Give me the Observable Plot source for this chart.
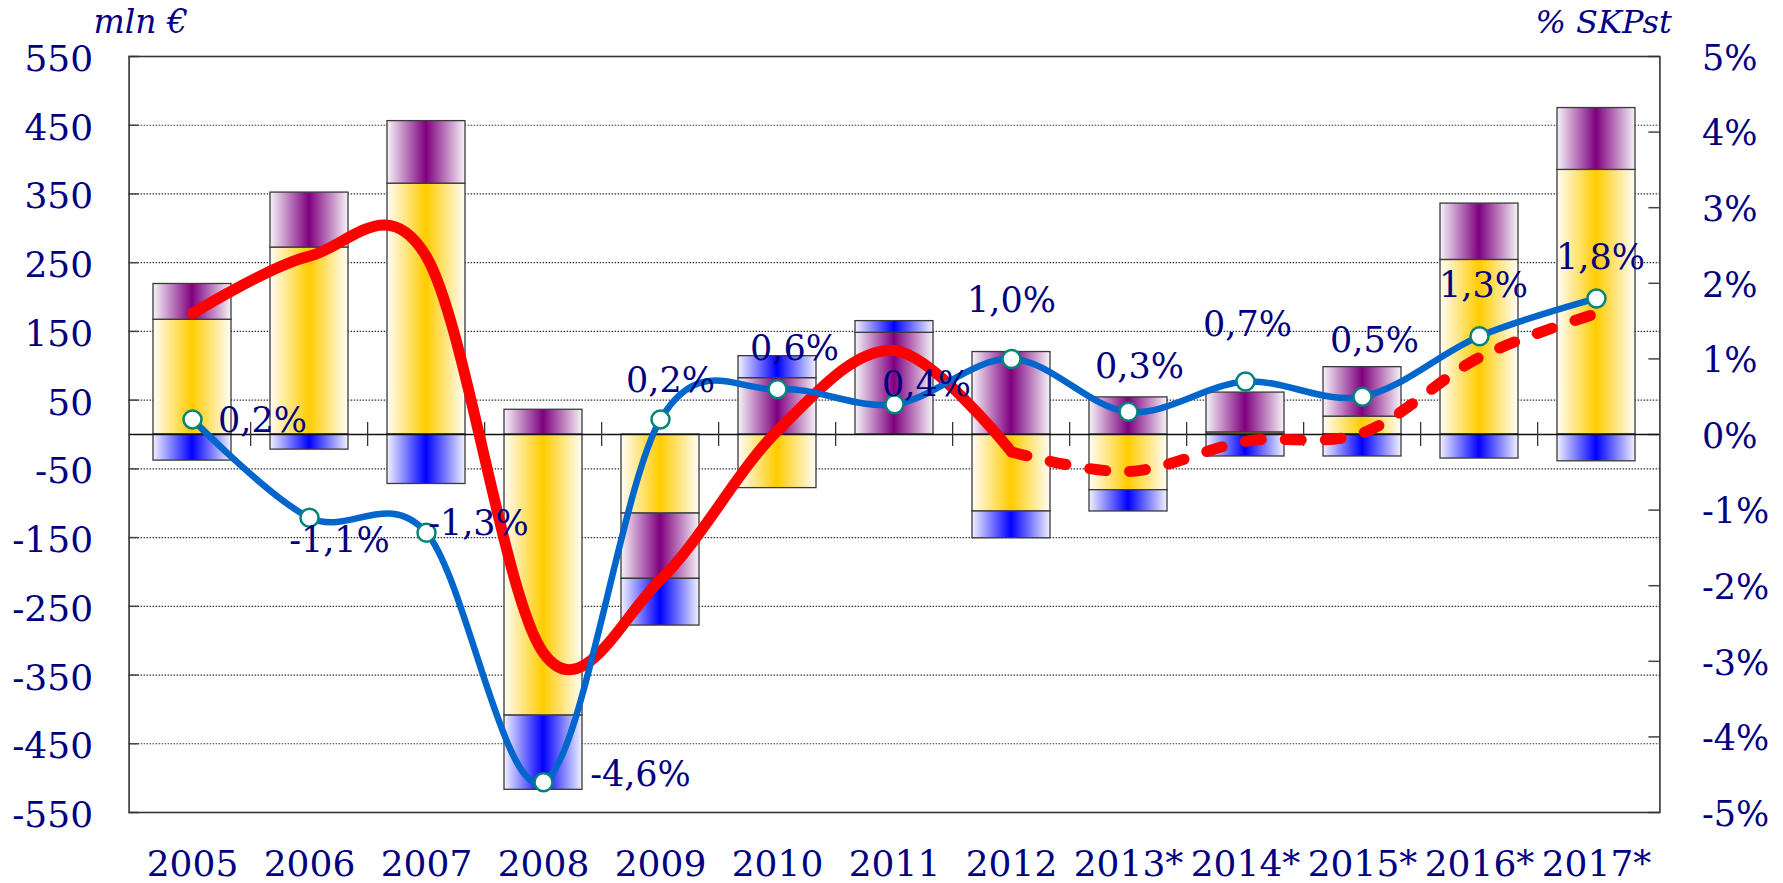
<!DOCTYPE html>
<html>
<head>
<meta charset="utf-8">
<script src="https://cdn.jsdelivr.net/npm/d3@7"></script>
<script src="https://cdn.jsdelivr.net/npm/@observablehq/plot@0.6"></script>
<style>
html, body { margin: 0; padding: 0; background: #ffffff; overflow: hidden; }
#chart svg { display: block; }
</style>
</head>
<body>
<div id="chart"></div>
<script>
// ---------- data ----------
const years = ["2005", "2006", "2007", "2008", "2009", "2010", "2011", "2012", "2013*", "2014*", "2015*", "2016*", "2017*"];
// stacked bar components (mln €)
const yellowValues = [167, 272, 365, -409, -115, -78, 0, -112, -81, 3, 26, 254, 385];
const purpleValues = [52, 80, 91, 36, -95, 82, 148, 120, 54, 58, 72, 82, 90];
const blueValues = [-38, -22, -72, -108, -68, 32, 17, -39, -31, -32, -32, -35, -39];
// blue line (% SKPst)
const balancePct = [0.2, -1.1, -1.3, -4.6, 0.2, 0.6, 0.4, 1.0, 0.3, 0.7, 0.5, 1.3, 1.8];
const balanceLabels = ["0,2%", "-1,1%", "-1,3%", "-4,6%", "0,2%", "0,6%", "0,4%", "1,0%", "0,3%", "0,7%", "0,5%", "1,3%", "1,8%"];
// red line (% SKPst): solid 2005-2012, dashed 2012-2017*
const redSolidYears = ["2005", "2006", "2007", "2008", "2009", "2010", "2011", "2012"];
const redSolidPct = [1.6, 2.36, 2.35, -2.89, -1.92, 0.05, 1.11, -0.23];
const redDashedYears = ["2012", "2013*", "2014*", "2015*", "2016*", "2017*"];
const redDashedPct = [-0.23, -0.49, -0.09, 0.02, 1.02, 1.6];
// axes
const leftTicks = [550, 450, 350, 250, 150, 50, -50, -150, -250, -350, -450, -550];
const rightTicks = [5, 4, 3, 2, 1, 0, -1, -2, -3, -4, -5];
const leftUnit = "mln €";
const rightUnit = "% SKPst";

// ---------- layout (not data) ----------
const W = 1783, H = 883;
const mL = 128.6, mR = 123.6, mT = 56, mB = 71;
const plotW = W - mL - mR;
const step = plotW / years.length;
const pctToMln = 550 / 5;
const navy = "#000080";
const font = "DejaVu Serif";
// label nudges in px relative to the point [dx, dy]
const labelNudge = [[70, 1], [30, 23], [52, -9], [97, -7], [10, -39], [17, -40], [32, -19], [0, -58], [11, -45], [2, -57], [12, -56], [4, -50], [4, -41]];

const gradUrl = {yellow: "url(#gYellow)", purple: "url(#gPurple)", blue: "url(#gBlue)"};

const stackData = [];
years.forEach((yr, i) => {
  stackData.push({year: yr, comp: "yellow", value: yellowValues[i]});
  stackData.push({year: yr, comp: "purple", value: purpleValues[i]});
  stackData.push({year: yr, comp: "blue", value: blueValues[i]});
});
const balance = years.map((yr, i) => ({year: yr, pct: balancePct[i], label: balanceLabels[i]}));
const redSolid = redSolidYears.map((yr, i) => ({year: yr, pct: redSolidPct[i]}));
const redDashed = redDashedYears.map((yr, i) => ({year: yr, pct: redDashedPct[i]}));
const gridValues = leftTicks.filter(v => Math.abs(v) < 550);

const svg = Plot.plot({
  width: W,
  height: H,
  marginLeft: mL,
  marginRight: mR,
  marginTop: mT,
  marginBottom: mB,
  style: {fontFamily: font, background: "#ffffff", color: navy, overflow: "visible"},
  x: {type: "band", domain: years, paddingInner: 0.337, paddingOuter: 0.1685, axis: null},
  y: {domain: [-550, 550], axis: null},
  color: {type: "identity"},
  marks: [
    // dotted gridlines
    Plot.ruleY(gridValues, {stroke: "#333", strokeWidth: 1.2, strokeDasharray: "1.5,1.5"}),
    // small inward ticks on left and right edges
    Plot.ruleY(leftTicks, {stroke: "#444", strokeWidth: 1.5, insetRight: plotW - 10}),
    Plot.ruleY(rightTicks.map(p => p * pctToMln), {stroke: "#444", strokeWidth: 1.5, insetLeft: plotW - 11}),
    // stacked bars with gradient fills
    Plot.barY(stackData, Plot.stackY({
      x: "year", y: "value", z: "comp",
      fill: d => gradUrl[d.comp],
      stroke: "#3a3a3a", strokeWidth: 1.3
    })),
    // zero line
    Plot.ruleY([0], {stroke: "#111", strokeWidth: 1.6}),
    // category separator ticks on zero line
    Plot.ruleX(years.slice(1), {x: d => d, y1: 0, y2: 0, insetTop: -12, insetBottom: -12, dx: -step / 2, stroke: "#333", strokeWidth: 1.3}),
    // frame
    Plot.frame({stroke: "#333", strokeWidth: 1.6}),
    // red line solid + dashed
    Plot.line(redSolid, {x: "year", y: d => d.pct * pctToMln, stroke: "#ff0000", strokeWidth: 11, curve: "cardinal", strokeLinecap: "round", strokeLinejoin: "round"}),
    Plot.line(redDashed, {x: "year", y: d => d.pct * pctToMln, stroke: "#ff0000", strokeWidth: 11, curve: "cardinal", strokeLinecap: "round", strokeDasharray: "16,24"}),
    // blue line
    Plot.line(balance, {x: "year", y: d => d.pct * pctToMln, stroke: "#0066cc", strokeWidth: 6.5, curve: "cardinal"}),
    Plot.dot(balance, {x: "year", y: d => d.pct * pctToMln, r: 9, fill: "#ffffff", stroke: "#008478", strokeWidth: 2.5}),
    // point labels
    ...balance.map((d, i) => Plot.text([d], {
      x: "year", y: v => v.pct * pctToMln, text: "label",
      dx: labelNudge[i][0], dy: labelNudge[i][1],
      fontSize: 35, fill: navy, fontFamily: font, textAnchor: "middle", lineAnchor: "middle"
    })),
    // left axis labels
    Plot.text(leftTicks, {y: d => d, text: d => `${d}`, frameAnchor: "left", dx: -36, dy: 3, textAnchor: "end", lineAnchor: "middle", fontSize: 36, fill: navy}),
    // right axis labels
    Plot.text(rightTicks, {y: d => d * pctToMln, text: d => `${d}%`, frameAnchor: "right", dx: 42, dy: 2, textAnchor: "start", lineAnchor: "middle", fontSize: 35, fill: navy}),
    // x labels
    Plot.text(years, {x: d => d, text: d => d, frameAnchor: "bottom", dy: 52, lineAnchor: "middle", fontSize: 36, fill: navy}),
    // unit labels
    Plot.text([leftUnit], {frameAnchor: "top-left", dx: 59, dy: -34, textAnchor: "end", lineAnchor: "middle", fontSize: 33, fontStyle: "italic", fill: navy}),
    Plot.text([rightUnit], {frameAnchor: "top-right", dx: 12, dy: -34, textAnchor: "end", lineAnchor: "middle", fontSize: 32, fontStyle: "italic", fill: navy})
  ]
});

// gradient definitions
const ns = "http://www.w3.org/2000/svg";
const defs = document.createElementNS(ns, "defs");
function addGradient(id, edge, center) {
  const g = document.createElementNS(ns, "linearGradient");
  g.setAttribute("id", id);
  g.setAttribute("x1", "0"); g.setAttribute("y1", "0");
  g.setAttribute("x2", "1"); g.setAttribute("y2", "0");
  [[0, edge], [0.5, center], [1, edge]].forEach(([o, c]) => {
    const s = document.createElementNS(ns, "stop");
    s.setAttribute("offset", o);
    s.setAttribute("stop-color", c);
    g.appendChild(s);
  });
  defs.appendChild(g);
}
addGradient("gYellow", "#fffdf8", "#ffcc00");
addGradient("gPurple", "#f6f4f8", "#7f007f");
addGradient("gBlue", "#f2f2ff", "#0000ff");
svg.insertBefore(defs, svg.firstChild);

document.getElementById("chart").appendChild(svg);
</script>
</body>
</html>
